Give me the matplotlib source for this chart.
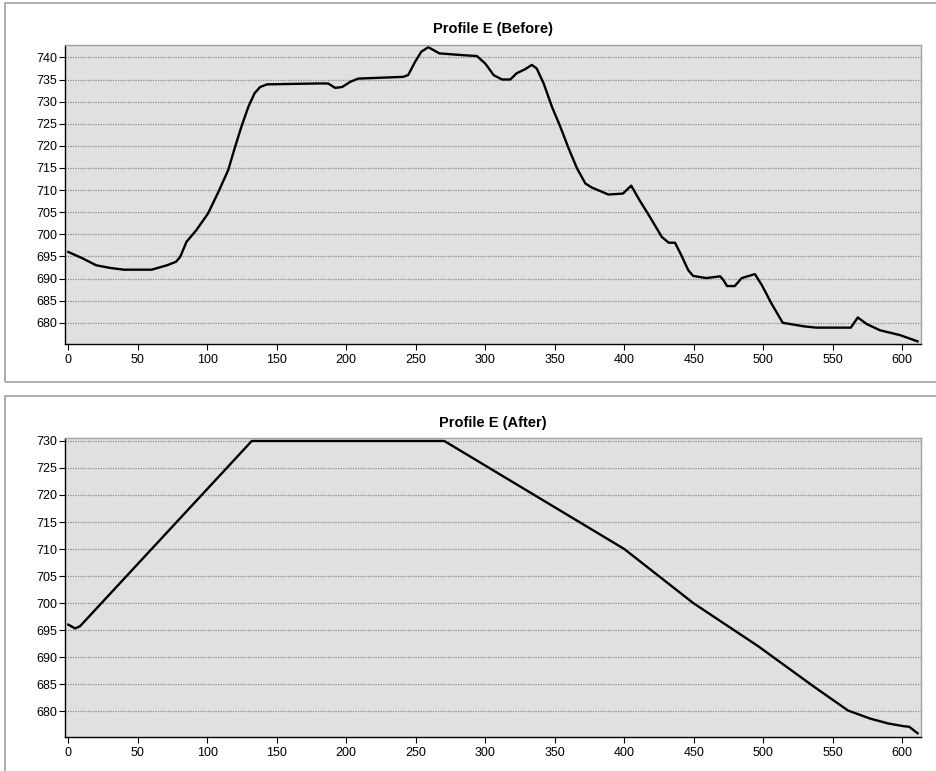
import matplotlib
matplotlib.use("Agg")
import matplotlib.pyplot as plt
from matplotlib.patches import Rectangle

# Ground profile along section E, distance (ft) vs elevation (ft)
before_dist = [0, 10, 20, 30, 40, 60, 71, 77.5, 80.5, 85, 92, 100.5, 108, 115, 120,
               124.5, 129.5, 134, 138, 143, 179, 187, 192, 197, 203, 208.5, 241,
               244.5, 249.5, 254, 259, 267, 284, 294, 300, 306, 312, 318, 322.5,
               328.5, 333.5, 337, 342, 348, 354, 360, 366, 372, 376.5, 388.5, 399,
               405, 411, 418.5, 427, 432, 436.5, 441, 446, 449.5, 459, 469, 471,
               474, 479.5, 484.5, 494, 499, 506, 514, 529, 538, 563, 568, 574.5,
               584, 598.5, 611]
before_elev = [696, 694.6, 693, 692.4, 692, 692, 693, 693.8, 694.9, 698.3, 700.9,
               704.7, 709.6, 714.5, 719.8, 724.3, 728.8, 731.9, 733.3, 733.9, 734.1,
               734.1, 733.1, 733.3, 734.5, 735.2, 735.6, 736, 739, 741.3, 742.3,
               740.9, 740.5, 740.3, 738.6, 736, 735, 735, 736.4, 737.3, 738.3, 737.5,
               734.1, 728.8, 724.3, 719.4, 714.9, 711.5, 710.6, 709, 709.2, 711,
               707.7, 703.9, 699.4, 698.1, 698.1, 695.3, 691.9, 690.6, 690.1, 690.5,
               689.8, 688.3, 688.3, 690.1, 691, 688.5, 684.3, 680, 679.2, 678.9,
               678.9, 681.2, 679.7, 678.3, 677.2, 675.8]

after_dist = [0, 4.8, 8.4, 132, 270.5, 400, 449.6, 496.4, 536, 561, 577, 590, 601,
              605, 611]
after_elev = [696, 695.3, 695.7, 730, 730, 710, 700, 692, 684.6, 680.1, 678.6,
              677.7, 677.2, 677.1, 675.9]

before_yticks = list(range(680, 741, 5))
after_yticks = list(range(680, 731, 5))
xticks = list(range(0, 601, 50))

W, H = 936, 771
plt.rcParams['font.family'] = ['Liberation Sans', 'DejaVu Sans']

fig = plt.figure(figsize=(W / 100, H / 100), dpi=100)
fig.patch.set_facecolor('white')

# grey frames around each chart panel
for (x0, y0, x1, y1) in [(5, 3, 940, 381.5), (5, 396, 940, 780)]:
    fig.patches.append(Rectangle((x0 / W, 1 - y1 / H), (x1 - x0) / W, (y1 - y0) / H,
                                 transform=fig.transFigure, fill=False,
                                 edgecolor='#a0a0a0', linewidth=1.2))


def profile_axes(rect, dist, elev, yticks, ylim, title, title_y):
    left, top, right, bottom = rect
    ax = fig.add_axes([left / W, 1 - bottom / H, (right - left) / W, (bottom - top) / H])
    ax.set_facecolor('#e0e0e0')
    ax.plot(dist, elev, color='black', linewidth=1.7, solid_joinstyle='round')
    ax.set_xlim(-2.4, 613.5)
    ax.set_ylim(*ylim)
    ax.set_xticks(xticks)
    ax.set_yticks(yticks)
    ax.yaxis.grid(True, linestyle=(0, (1, 1)), color='#8c8c8c', linewidth=0.9)
    ax.set_axisbelow(True)
    ax.tick_params(axis='both', labelsize=9, colors='black', length=4, width=0.8)
    ax.tick_params(axis='y', pad=1.5)
    ax.tick_params(axis='x', pad=3)
    ax.spines['left'].set_color('black')
    ax.spines['bottom'].set_color('black')
    ax.spines['top'].set_color('#a0a0a0')
    ax.spines['right'].set_color('#a0a0a0')
    for s in ax.spines.values():
        s.set_linewidth(1.0)
    fig.text((left + right) / 2 / W, 1 - title_y / H, title, ha='center', va='center',
             fontsize=10.5, fontweight='bold')
    return ax


profile_axes((65, 45, 921, 344), before_dist, before_elev, before_yticks,
             (675.2, 742.8), 'Profile E (Before)', 29)
profile_axes((65, 438, 921, 737), after_dist, after_elev, after_yticks,
             (675.2, 730.55), 'Profile E (After)', 423)

fig.savefig('out.png', dpi=100)
